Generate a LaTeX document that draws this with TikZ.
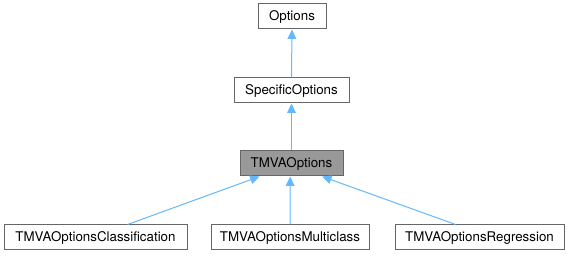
\documentclass[tikz,border=0pt]{standalone}
\usepackage{fontspec}
\setmainfont{TeX Gyre Heros}
\usetikzlibrary{arrows.meta}

\definecolor{edgeblue}{RGB}{99,184,255}
\definecolor{boxline}{RGB}{102,102,102}
\definecolor{boxfill}{RGB}{153,153,153}

\begin{document}
\begin{tikzpicture}[x=0.75pt,y=-0.75pt,
	cls/.style={draw=boxline,fill=white,line width=0.75pt,inner sep=0pt,
		minimum height=18.75pt,font=\fontsize{10}{12}\selectfont},
	here/.style={cls,fill=boxfill},
	inherit/.style={draw=edgeblue,line width=0.75pt,
		-{Triangle[width=6.5pt,length=7pt]}}]

		\useasboundingbox (0,0) rectangle (569,256);

		\node (opt) at (292,16.5) [cls,minimum width=51pt] {Options};
		\node (spec) at (291.5,90.5) [cls,minimum width=86.25pt] {SpecificOptions};
		\node (tmva) at (291.5,163.5) [here,minimum width=77.25pt] {TMVAOptions};

		\node (clas) at (95.5,237.5) [cls,minimum width=137.25pt] {TMVAOptionsClassification};
		\node (multi) at (290,237.5) [cls,minimum width=118.5pt] {TMVAOptionsMulticlass};
		\node (regr) at (479.5,237.5) [cls,minimum width=126.75pt] {TMVAOptionsRegression};

		\draw [inherit] (spec.north) -- (opt.south);
		\draw [inherit] (tmva.north) -- (spec.south);
		\draw [inherit] ([xshift=24pt]clas.north) -- ([xshift=-24pt]tmva.south);
		\draw [inherit] (multi.north) -- ([xshift=-1pt]tmva.south);
		\draw [inherit] ([xshift=-18pt]regr.north) -- ([xshift=23pt]tmva.south);

\end{tikzpicture}
\end{document}
